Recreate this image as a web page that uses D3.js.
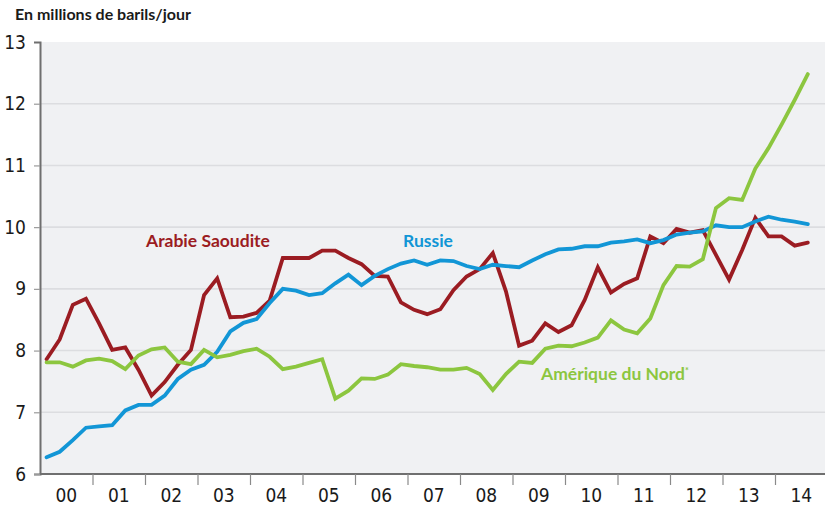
<!DOCTYPE html>
<html>
<head>
<meta charset="utf-8">
<script src="https://cdn.jsdelivr.net/npm/d3@7"></script>
<style>
  html, body { margin: 0; padding: 0; background: #ffffff; }
  svg { display: block; }
</style>
</head>
<body>
<svg id="chart" width="825" height="505"></svg>
<script>
// ---- Data (quarterly, 2000 Q1 .. 2014 Q3), millions of barrels/day ----
const yearLabels = ["00","01","02","03","04","05","06","07","08","09","10","11","12","13","14"];
const yTicks = [6, 7, 8, 9, 10, 11, 12, 13];

const saudi = [7.86,8.18,8.74,8.84, 8.44,8.01,8.05,7.69, 7.27,7.49,7.77,8.01, 8.90,9.17,8.54,8.55,
  8.61,8.81,9.50,9.50, 9.50,9.62,9.62,9.50, 9.40,9.21,9.20,8.78, 8.66,8.59,8.67,8.98,
  9.20,9.32,9.58,8.96, 8.08,8.16,8.44,8.30, 8.41,8.82,9.35,8.94, 9.08,9.17,9.85,9.74,
  9.97,9.91,9.95,9.55, 9.15,9.63,10.15,9.85, 9.85,9.70,9.75];

const russia = [6.27,6.36,6.55,6.75, 6.77,6.79,7.03,7.12, 7.12,7.27,7.54,7.69, 7.77,7.98,8.31,8.45,
  8.51,8.77,9.00,8.97, 8.90,8.93,9.09,9.23, 9.06,9.21,9.32,9.41, 9.46,9.39,9.46,9.45,
  9.37,9.32,9.39,9.37, 9.35,9.46,9.56,9.64, 9.65,9.69,9.69,9.75, 9.77,9.80,9.74,9.79,
  9.88,9.91,9.93,10.03, 10.00,10.00,10.09,10.17, 10.12,10.09,10.05];

const northAmerica = [7.81,7.81,7.74,7.84, 7.87,7.83,7.70,7.92, 8.02,8.05,7.82,7.78, 8.01,7.89,7.93,7.99,
  8.03,7.90,7.70,7.74, 7.80,7.86,7.22,7.35, 7.55,7.54,7.61,7.78, 7.75,7.73,7.69,7.69,
  7.72,7.62,7.36,7.62, 7.82,7.80,8.03,8.08, 8.07,8.13,8.21,8.49, 8.34,8.28,8.52,9.06,
  9.37,9.36,9.48,10.31, 10.47,10.44,10.95,11.28, 11.66,12.06,12.48];

const seriesNames = ["Arabie Saoudite", "Russie", "Amérique du Nord"];
const colors = ["#9b1c22", "#1296d6", "#8cc63f"];

// ---- Layout ----
const svg = d3.select("#chart");
const mLeft = 40, mRight = 827.5, mTop = 42, mBottom = 474;

const x = d3.scaleLinear().domain([0, yearLabels.length * 4]).range([mLeft, mRight]);
const y = d3.scaleLinear().domain([6, 13]).range([mBottom, mTop]);

const numFont = "'Liberation Sans Narrow', 'DejaVu Sans Condensed', 'Roboto', sans-serif";
const labFont = "'Lato', 'Open Sans', sans-serif";

// plot background
svg.append("rect")
  .attr("x", mLeft).attr("y", mTop)
  .attr("width", 825 - mLeft).attr("height", mBottom - mTop)
  .attr("fill", "#f0f1f3");

// gridlines
svg.append("g").selectAll("line")
  .data(yTicks.filter(d => d > 6 && d < 13))
  .join("line")
  .attr("x1", mLeft).attr("x2", 825)
  .attr("y1", d => y(d)).attr("y2", d => y(d))
  .attr("stroke", "#dcdde0").attr("stroke-width", 1.6);

// y axis
const yAxis = d3.axisLeft(y).tickValues(yTicks).tickSize(6).tickPadding(8).tickFormat(d3.format("d"));
const gy = svg.append("g").attr("transform", `translate(${mLeft},0)`).call(yAxis);
gy.select(".domain").attr("stroke", "#6f6f6f").attr("stroke-width", 2);
gy.selectAll(".tick line").attr("stroke", "#9a9a9a").attr("stroke-width", 1.2);
gy.selectAll(".tick").filter(d => d === 13).select("line").remove();
gy.selectAll(".tick text")
  .attr("fill", "#1a1a1a").style("font-family", numFont).style("font-size", "19px");

// x axis: ticks at year boundaries, labels centred in each year
const xAxis = d3.axisBottom(x)
  .tickValues(d3.range(1, yearLabels.length).map(i => i * 4))
  .tickSize(11).tickFormat("");
const gx = svg.append("g").attr("transform", `translate(0,${mBottom})`).call(xAxis);
gx.select(".domain").attr("stroke", "#6f6f6f").attr("stroke-width", 2).attr("d", `M${mLeft},0H825`);
gx.selectAll(".tick line").attr("stroke", "#8a8a8a").attr("stroke-width", 1.2);

svg.append("g").selectAll("text")
  .data(yearLabels)
  .join("text")
  .attr("x", (d, i) => x(i * 4 + 2))
  .attr("y", 502)
  .attr("text-anchor", "middle")
  .attr("fill", "#1a1a1a")
  .style("font-family", numFont).style("font-size", "19px")
  .text(d => d);

// lines
const line = d3.line()
  .x((d, i) => x(i + 0.5))
  .y(d => y(d))
  .curve(d3.curveLinear);

[saudi, russia, northAmerica].forEach((s, i) => {
  svg.append("path")
    .datum(s)
    .attr("d", line)
    .attr("fill", "none")
    .attr("stroke", colors[i])
    .attr("stroke-width", 3.8)
    .attr("stroke-linejoin", "miter")
    .attr("stroke-linecap", "round");
});

// series labels
svg.append("text").attr("x", 146).attr("y", 247)
  .attr("fill", colors[0]).style("font-family", labFont).style("font-weight", "bold").style("font-size", "17.5px")
  .text(seriesNames[0]);
svg.append("text").attr("x", 403).attr("y", 247)
  .attr("fill", colors[1]).style("font-family", labFont).style("font-weight", "bold").style("font-size", "17.5px")
  .text(seriesNames[1]);
const na = svg.append("text").attr("x", 541).attr("y", 380)
  .attr("fill", colors[2]).style("font-family", labFont).style("font-weight", "bold").style("font-size", "17.5px");
na.append("tspan").text(seriesNames[2]);
na.append("tspan").attr("dy", -6).style("font-size", "9px").text("*");

// title
svg.append("text").attr("x", 15).attr("y", 20)
  .attr("fill", "#1a1a1a").style("font-family", labFont).style("font-weight", "bold").style("font-size", "16px")
  .text("En millions de barils/jour");
</script>
</body>
</html>
